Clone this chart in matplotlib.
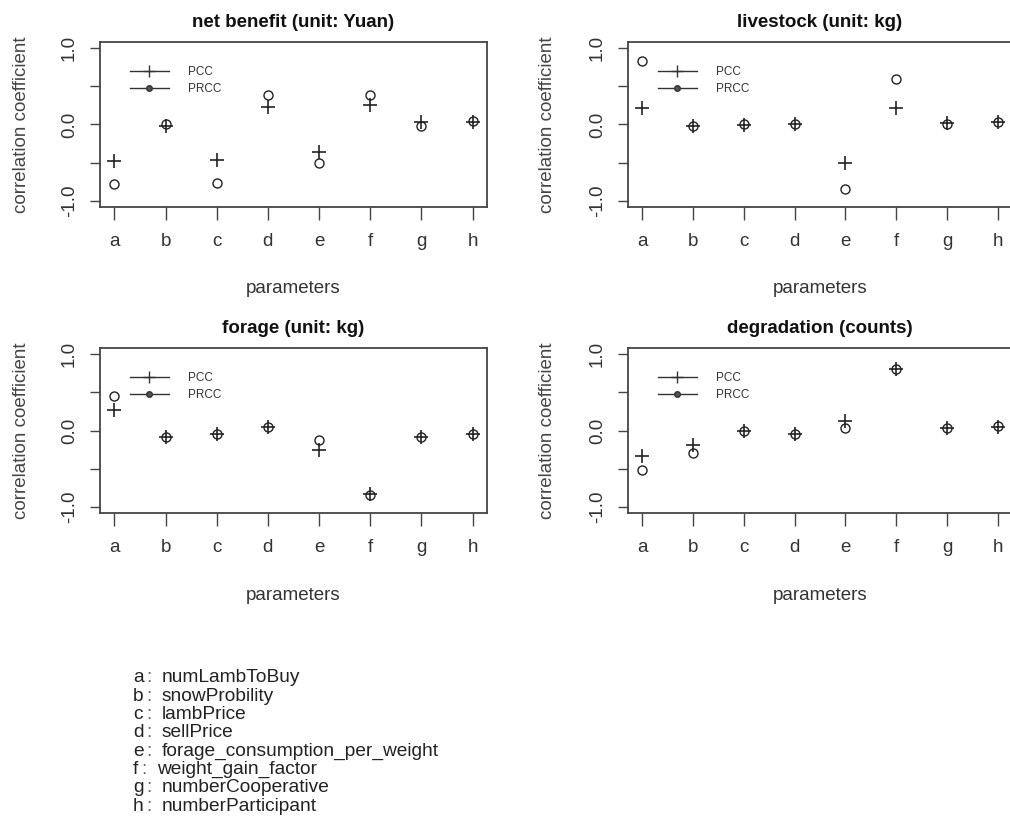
import matplotlib
matplotlib.use("Agg")
import matplotlib.pyplot as plt
from matplotlib.lines import Line2D

plt.rcParams['font.family'] = ['Liberation Sans', 'DejaVu Sans']

params = ['a', 'b', 'c', 'd', 'e', 'f', 'g', 'h']
param_names = ['numLambToBuy', 'snowProbility', 'lambPrice', 'sellPrice',
               'forage_consumption_per_weight', 'weight_gain_factor',
               'numberCooperative', 'numberParticipant']

titles = ['net benefit (unit: Yuan)', 'livestock (unit: kg)',
          'forage (unit: kg)', 'degradation (counts)']

pcc_benefit = [-0.48, -0.02, -0.47, 0.23, -0.36, 0.26, 0.03, 0.03]
prcc_benefit = [-0.78, 0.00, -0.76, 0.38, -0.50, 0.38, -0.02, 0.05]

pcc_livestock = [0.21, -0.02, -0.01, 0.00, -0.50, 0.21, 0.02, 0.03]
prcc_livestock = [0.83, -0.02, 0.00, 0.00, -0.84, 0.59, 0.00, 0.03]

pcc_forage = [0.27, -0.08, -0.04, 0.04, -0.25, -0.83, -0.08, -0.05]
prcc_forage = [0.45, -0.08, -0.04, 0.04, -0.12, -0.85, -0.08, -0.05]

pcc_degradation = [-0.33, -0.19, 0.00, -0.04, 0.13, 0.80, 0.03, 0.04]
prcc_degradation = [-0.52, -0.30, 0.00, -0.04, 0.03, 0.80, 0.03, 0.06]

pcc_all = [pcc_benefit, pcc_livestock, pcc_forage, pcc_degradation]
prcc_all = [prcc_benefit, prcc_livestock, prcc_forage, prcc_degradation]

ytick_vals = [-1.0, -0.5, 0.0, 0.5, 1.0]
ytick_labels = ['-1.0', '', '0.0', '', '1.0']

W, H = 1010, 818
fig = plt.figure(figsize=(W / 100, H / 100), dpi=100)

# panel boxes in pixels: (left, right, top, bottom)
boxes = [(100, 487, 42, 207), (628, 1012, 42, 207),
         (100, 487, 348, 513), (628, 1012, 348, 513)]

dark = '#222222'
x = list(range(1, len(params) + 1))

for i, (l, r, t, b) in enumerate(boxes):
    ax = fig.add_axes([l / W, 1 - b / H, (r - l) / W, (b - t) / H])
    ax.plot(x, pcc_all[i], linestyle='none', marker='+', markersize=10.5,
            mew=1.2, color=dark)
    ax.plot(x, prcc_all[i], linestyle='none', marker='o', markersize=6.5,
            mfc='none', mew=1.0, color=dark)
    ax.set_xlim(0.72, 8.28)
    ax.set_ylim(-1.08, 1.08)
    ax.set_xticks(x)
    ax.set_xticklabels(params, fontsize=13.5, color='#333333')
    ax.set_yticks(ytick_vals)
    ax.set_yticklabels(ytick_labels, fontsize=13.5, color='#333333',
                       rotation=90, va='center')
    ax.tick_params(axis='x', length=9, width=1.0, pad=10, color='#444444')
    ax.tick_params(axis='y', length=7, width=1.0, pad=9, color='#444444')
    for sp in ax.spines.values():
        sp.set_linewidth(1.3)
        sp.set_color('#444444')
    ax.set_title(titles[i], fontsize=13.5, fontweight='bold', pad=10.5,
                 color='#111111')
    ax.set_xlabel('parameters', fontsize=13.5, color='#333333')
    ax.xaxis.label.set_va('center')
    ax.xaxis.set_label_coords(0.5, -(289 - 207) / 165)
    ax.set_ylabel('correlation coefficient', fontsize=13.5, color='#444444')
    ax.yaxis.label.set_va('center')
    ax.yaxis.set_label_coords(-(l - (22 if l < 500 else 547)) / (r - l), 0.5)

    handles = [Line2D([], [], color='#333333', lw=1.0, marker='+',
                      markersize=8, mew=1.0),
               Line2D([], [], color='#333333', lw=1.0, marker='o',
                      markersize=4, mew=1.0, mfc='#555555')]
    ax.legend(handles, ['PCC', 'PRCC'], loc='upper left',
              bbox_to_anchor=(30 / (r - l), 1 - 24 / 165), frameon=False,
              fontsize=8.5, handlelength=3.3, handletextpad=1.6,
              labelspacing=0.45, borderpad=0, borderaxespad=0,
              labelcolor='#333333')

# parameter key below the panels
for j, (p, name) in enumerate(zip(params, param_names)):
    yy = 1 - (678 + j * 18.3) / H
    fig.text(133 / W, yy, p, fontsize=13.8, ha='left', va='center',
             color='#222222')
    cx = 141 if p == 'f' else 146
    fig.text(cx / W, yy, ':', fontsize=13.8, ha='left', va='center',
             color='#666666')
    nx = 157 if p == 'f' else 162
    fig.text(nx / W, yy, name, fontsize=13.8, ha='left', va='center',
             color='#222222')

fig.savefig('out.png', dpi=100)
